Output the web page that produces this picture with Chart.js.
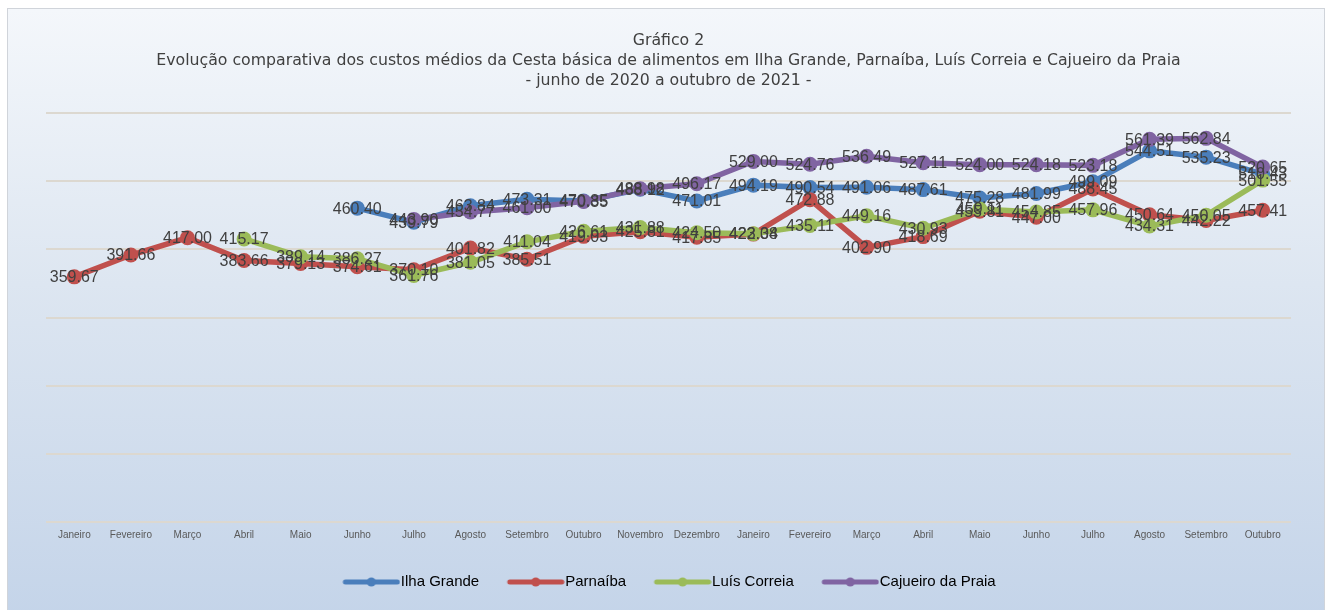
<!DOCTYPE html>
<html>
<head>
<meta charset="utf-8">
<script src="https://cdn.jsdelivr.net/npm/chart.js@4/dist/chart.umd.min.js"></script>
<style>
  html, body { margin: 0; padding: 0; background: #fff; overflow: hidden; }
  #box {
    position: absolute; left: 7px; top: 8px; width: 1316px; height: 610px;
    border: 1px solid #d0d4da;
    background: linear-gradient(to bottom, #f4f7fb 0%, #dde6f1 45%, #c4d4e9 100%);
    overflow: hidden;
  }
</style>
</head>
<body>
<div id="box"><canvas id="chart" width="1316" height="594"></canvas></div>
<script>
// --- Data ---
const months = ['Janeiro', 'Fevereiro', 'Março', 'Abril', 'Maio', 'Junho', 'Julho', 'Agosto', 'Setembro', 'Outubro', 'Novembro', 'Dezembro',
                'Janeiro', 'Fevereiro', 'Março', 'Abril', 'Maio', 'Junho', 'Julho', 'Agosto', 'Setembro', 'Outubro'];

const ilhaGrande = [null, null, null, null, null, 460.40, 439.79, 463.84, 473.31, 470.85, 488.12, 471.01,
                    494.19, 490.54, 491.06, 487.61, 475.28, 481.99, 499.09, 544.51, 535.23, 510.43];
const parnaiba   = [359.67, 391.66, 417.00, 383.66, 379.13, 374.61, 370.10, 401.82, 385.51, 419.03, 425.81, 417.85,
                    422.38, 472.88, 402.90, 418.69, 455.81, 447.00, 488.45, 450.64, 442.22, 457.41];
const luisCorreia = [null, null, null, 415.17, 389.14, 386.27, 361.76, 381.05, 411.04, 426.61, 431.88, 424.50,
                    423.04, 435.11, 449.16, 430.93, 459.11, 454.85, 457.96, 434.31, 450.05, 501.55];
const cajueiro   = [null, null, null, null, null, null, 443.90, 454.77, 461.00, 470.35, 488.98, 496.17,
                    529.00, 524.76, 536.49, 527.11, 524.00, 524.18, 523.18, 561.39, 562.84, 520.65];

const seriesNames = ['Ilha Grande', 'Parnaíba', 'Luís Correia', 'Cajueiro da Praia'];
const seriesData = [ilhaGrande, parnaiba, luisCorreia, cajueiro];
const seriesColors = ['#4a7ebb', '#c0504d', '#9bbb59', '#8064a2'];

const titleLines = [
  'Gráfico 2',
  'Evolução comparativa dos custos médios da Cesta básica de alimentos em Ilha Grande, Parnaíba, Luís Correia e Cajueiro da Praia',
  '- junho de 2020 a outubro de 2021 -'
];

// legend marker: line with a dot in the middle (reaches close to the text)
function legendMarker(color) {
  const c = document.createElement('canvas');
  c.width = 66; c.height = 12;
  const g = c.getContext('2d');
  g.strokeStyle = color;
  g.lineWidth = 5;
  g.lineCap = 'round';
  g.beginPath(); g.moveTo(11, 6); g.lineTo(63, 6); g.stroke();
  g.fillStyle = color;
  g.beginPath(); g.arc(37, 6, 4.5, 0, Math.PI * 2); g.fill();
  return c;
}

// value labels centred on each point
const pointLabels = {
  id: 'pointLabels',
  afterDatasetsDraw(chart) {
    const ctx = chart.ctx;
    ctx.save();
    ctx.font = '16px "Liberation Sans", Arial, sans-serif';
    ctx.fillStyle = '#404040';
    ctx.textAlign = 'center';
    ctx.textBaseline = 'middle';
    chart.data.datasets.forEach((ds, i) => {
      const meta = chart.getDatasetMeta(i);
      meta.data.forEach((pt, j) => {
        const v = ds.data[j];
        if (v === null) return;
        ctx.fillText(v.toFixed(2), pt.x, pt.y + 1);
      });
    });
    ctx.restore();
  }
};

new Chart(document.getElementById('chart'), {
  type: 'line',
  data: {
    labels: months,
    datasets: seriesNames.map((name, i) => ({
      label: name,
      data: seriesData[i],
      borderColor: seriesColors[i],
      backgroundColor: seriesColors[i],
      pointBackgroundColor: seriesColors[i],
      pointBorderWidth: 0,
      pointRadius: 7.5,
      borderWidth: 5.5,
      tension: 0,
      order: 3 - i,
      pointStyle: 'circle'
    }))
  },
  options: {
    responsive: false,
    animation: false,
    layout: { padding: { left: 38, right: 33, top: 0, bottom: 3.5 } },
    plugins: {
      title: {
        display: true,
        text: titleLines,
        color: '#404040',
        font: { family: '"DejaVu Sans", sans-serif', size: 15.75, weight: 'normal', lineHeight: 1.27 },
        padding: { top: 22, bottom: 22 }
      },
      legend: {
        position: 'bottom',
        labels: {
          usePointStyle: true,
          pointStyleWidth: 52,
          padding: 26.5,
          color: '#404040',
          font: { family: '"Liberation Sans", Arial, sans-serif', size: 15 },
          generateLabels(chart) {
            return chart.data.datasets.map((ds, i) => ({
              text: ds.label,
              pointStyle: legendMarker(seriesColors[i]),
              fillStyle: seriesColors[i],
              strokeStyle: seriesColors[i],
              lineWidth: 0,
              datasetIndex: i
            }));
          }
        }
      },
      tooltip: { enabled: false }
    },
    scales: {
      x: {
        offset: true,
        grid: { display: false, drawTicks: false },
        border: { display: false },
        ticks: {
          padding: 7,
          color: '#595959',
          autoSkip: false,
          maxRotation: 0,
          font: { family: '"Liberation Sans", Arial, sans-serif', size: 10 }
        }
      },
      y: {
        min: 0,
        max: 600,
        ticks: { display: false, stepSize: 100 },
        grid: { color: '#dcd8d0', lineWidth: 2, drawTicks: false },
        border: { display: false }
      }
    }
  },
  plugins: [pointLabels]
});
</script>
</body>
</html>
